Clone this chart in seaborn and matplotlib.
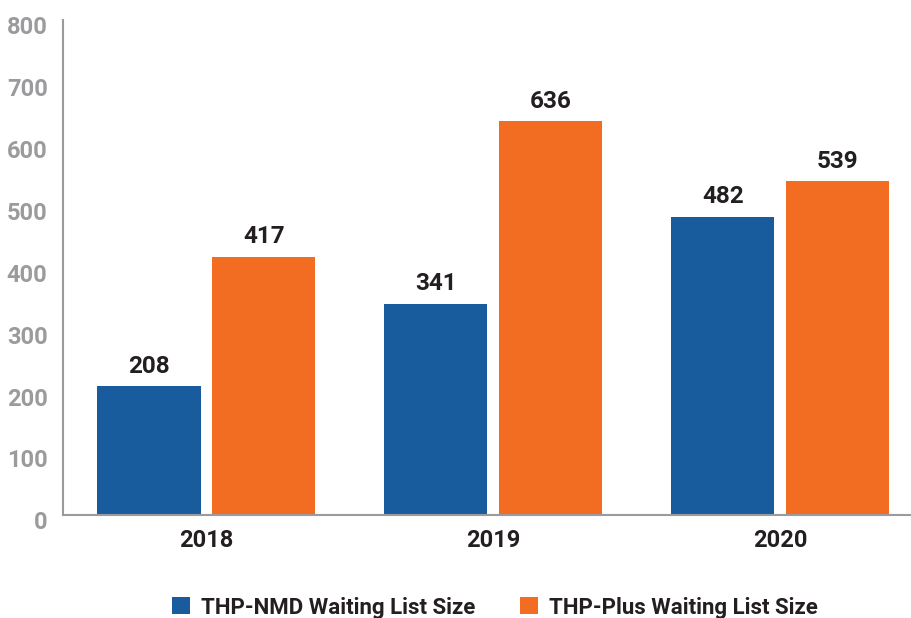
import matplotlib
matplotlib.use("Agg")
import matplotlib.pyplot as plt
import matplotlib.transforms as mtransforms
import pandas as pd
import seaborn as sns

years = ["2018", "2019", "2020"]
series_names = ["THP-NMD Waiting List Size", "THP-Plus Waiting List Size"]
nmd_values = [208, 341, 482]
plus_values = [417, 636, 539]
y_ticks = [0, 100, 200, 300, 400, 500, 600, 700, 800]

BLUE = "#185C9D"
ORANGE = "#F26C22"
GRAY = "#9B9B9D"
DARK = "#231F20"

sns.set_style("white")
plt.rcParams["font.family"] = ["Roboto", "DejaVu Sans"]
plt.rcParams["font.weight"] = "bold"

df = pd.DataFrame({
    "year": years * 2,
    "series": [series_names[0]] * 3 + [series_names[1]] * 3,
    "value": nmd_values + plus_values,
})

fig = plt.figure(figsize=(9.12, 6.18), dpi=100)
ax = fig.add_axes([0.069, 0.167, 0.931, 0.801])
sns.barplot(data=df, x="year", y="value", hue="series", hue_order=series_names,
            palette=[BLUE, ORANGE], width=0.8, gap=0.1, saturation=1,
            linewidth=0, ax=ax)

for container in ax.containers:
    ax.bar_label(container, fmt="%d", padding=6, fontsize=17.5, fontweight="bold", color=DARK)

ax.set_ylim(0, 800)
ax.set_yticks(y_ticks)
ax.set_xlim(-0.5, 2.46)
ax.set_xlabel("")
ax.set_ylabel("")
ax.tick_params(axis="y", length=0, labelsize=17, labelcolor=GRAY, pad=11)
ax.tick_params(axis="x", length=0, labelsize=17, labelcolor=DARK, pad=10)
shift = mtransforms.ScaledTranslation(0, -4 / 72, fig.dpi_scale_trans)
for lbl in ax.get_yticklabels():
    lbl.set_fontweight("bold")
    lbl.set_transform(lbl.get_transform() + shift)
for lbl in ax.get_xticklabels():
    lbl.set_fontweight("bold")

sns.despine(ax=ax, top=True, right=True)
for side in ("left", "bottom"):
    ax.spines[side].set_color(GRAY)
    ax.spines[side].set_linewidth(1.5)

leg = ax.legend(loc="lower center", bbox_to_anchor=(0.509, -0.25), ncol=2, frameon=False,
                fontsize=16, handlelength=0.8, handleheight=0.8, columnspacing=2.0, handletextpad=0.5)
for t in leg.get_texts():
    t.set_fontweight("bold")
    t.set_color(DARK)

fig.savefig("out.png", dpi=100)
